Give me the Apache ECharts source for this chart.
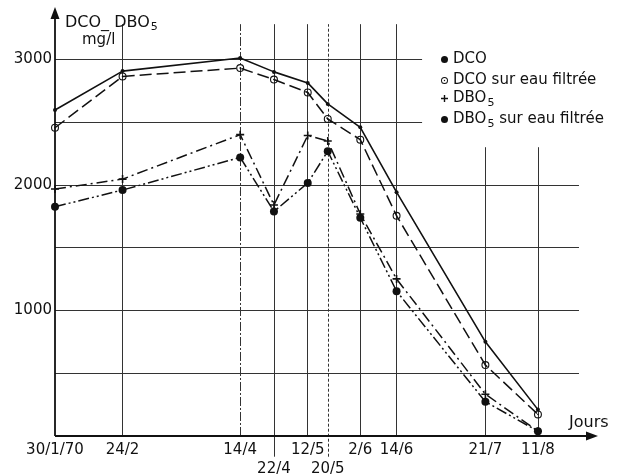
<!DOCTYPE html>
<html>
<head>
<meta charset="utf-8">
<script src="https://cdn.jsdelivr.net/npm/echarts@6/dist/echarts.min.js"></script>
<style>html,body{margin:0;padding:0;background:#fff}#c{width:617px;height:474px}</style>
</head>
<body>
<div id="c"></div>
<script>
// ---- data ----
var dates = ['30/1/70','24/2','14/4','22/4','12/5','20/5','2/6','14/6','21/7','11/8'];
var xPos  = [0, 27, 74, 87.5, 101, 109, 122, 136.5, 172, 193];   // position along the time axis (days from 30/1)
var dco   = [2596, 2906, 3010, 2900, 2812, 2645, 2458, 1942, 750, 210];
var dcoF  = [2455, 2864, 2930, 2839, 2736, 2525, 2360, 1754, 565, 172];
var dbo   = [1967, 2046, 2400, 1840, 2393, 2350, 1768, 1251, 333, 38];
var dboF  = [1826, 1959, 2219, 1788, 2015, 2268, 1738, 1153, 273, 38];
var yTicks = [1000, 2000, 3000];
var lowRow = ['22/4', '20/5'];
var seriesNames = ['DCO', 'DCO sur eau filtrée', 'DBO5', 'DBO5 sur eau filtrée'];

var FONT = 'DejaVu Sans';
var INK = '#111';
function pts(arr){ return arr.map(function(v,i){ return [xPos[i], v]; }); }

// frame: axes, arrows, grid lines
var frame = [];
var gl = {color:'#333', width:1, type:'solid'};
[500,1000,1500,2000].forEach(function(y){
  frame.push([{coord:[0,y], lineStyle:gl},{coord:[209.4,y]}]);
});
[2500,3000].forEach(function(y){
  frame.push([{coord:[0,y], lineStyle:gl},{coord:[146.7,y]}]);
});
xPos.forEach(function(x,i){
  if(i===0) return;
  var bottom = lowRow.indexOf(dates[i])>=0 ? -165 : 0;
  var top = i>=8 ? 2300 : 3280;
  var st = dates[i]==='20/5' ? {color:'#333', width:1, type:[3,2]} :
           dates[i]==='14/4' ? {color:'#333', width:1, type:[9,2,2,2]} : gl;
  frame.push([{coord:[x,bottom], lineStyle:st},{coord:[x,top]}]);
});
// axes with arrows
frame.push([{coord:[0,0], symbol:'none', lineStyle:{color:INK,width:1.8,type:'solid'}},{coord:[214.6,0], symbol:'triangle', symbolSize:[9,12], symbolRotate:-90}]);
frame.push([{coord:[0,0], symbol:'none', lineStyle:{color:INK,width:1.8,type:'solid'}},{coord:[0,3368], symbol:'triangle', symbolSize:[9,12], symbolRotate:0}]);

var sub = {fontSize:11, fontFamily:FONT, color:INK, padding:[9,0,0,1]};
var plusPath = 'path://M4,0H6V4H10V6H6V10H4V6H0V4H4Z';
var ringPath = 'path://M0,5a5,5 0 1,0 10,0a5,5 0 1,0 -10,0Z M1.4,5a3.6,3.6 0 1,1 7.2,0a3.6,3.6 0 1,1 -7.2,0Z M4,5a1,1 0 1,0 2,0a1,1 0 1,0 -2,0Z';
var icons = ['circle', ringPath, plusPath, 'circle'];
var legendTops = [47, 68, 86, 107];

var legends = seriesNames.map(function(n,i){
  return {
    orient:'vertical', left:436, top:legendTops[i], itemWidth:7, itemHeight:7,
    selectedMode:false,
    textStyle:{fontFamily:FONT, fontSize:15, color:INK, rich:{sub:sub}},
    formatter:function(s){ return s.replace('DBO5','DBO{sub|5}'); },
    data:[{name:n, icon:icons[i]}]
  };
});

var chart = echarts.init(document.getElementById('c'), null, {renderer:'canvas'});
chart.setOption({
  animation:false,
  backgroundColor:'#fff',
  grid:{left:55, right:617-593, top:9.1, bottom:12.9, containLabel:false, outerBoundsMode:'none'},
  title:[
    {text:'DCO_ DBO{sub|5}', left:60, top:8, textStyle:{fontFamily:FONT, fontSize:16, fontWeight:'normal', color:INK, rich:{sub:sub}}},
    {text:'mg/l', left:77, top:28, textStyle:{fontFamily:FONT, fontSize:15, fontWeight:'normal', color:INK}},
    {text:'Jours', left:564, top:410, textStyle:{fontFamily:FONT, fontSize:16, fontWeight:'normal', color:INK}}
  ],
  legend:legends,
  xAxis:{
    type:'value', min:0, max:215, offset:-25.1,
    axisLine:{show:false}, axisTick:{show:false}, splitLine:{show:false},
    axisLabel:{
      customValues:xPos, margin:5, fontFamily:FONT, fontSize:15, color:INK, lineHeight:19,
      formatter:function(v){
        var i = xPos.indexOf(v); if(i<0) return '';
        var t = dates[i];
        return lowRow.indexOf(t)>=0 ? '\n'+t : t;
      }
    }
  },
  yAxis:{
    type:'value', min:-200, max:3400,
    axisLine:{show:false}, axisTick:{show:false}, splitLine:{show:false},
    axisLabel:{customValues:yTicks, margin:3, fontFamily:FONT, fontSize:15, color:INK,
      formatter:function(v){ return String(v); }}
  },
  series:[
    {type:'line', name:'frame', data:[], clip:false, silent:true,
     markLine:{silent:true, symbol:'none', label:{show:false}, animation:false, data:frame}},
    {type:'line', name:seriesNames[0], data:pts(dco), symbol:'circle', symbolSize:4,
     lineStyle:{color:INK, width:1.6, type:'solid'}, itemStyle:{color:INK}, z:5},
    {type:'line', name:seriesNames[1], data:pts(dcoF), symbol:ringPath, symbolSize:8,
     lineStyle:{color:INK, width:1.5, type:[12,5]}, itemStyle:{color:INK}, z:5},
    {type:'line', name:seriesNames[2], data:pts(dbo), symbol:plusPath, symbolSize:8,
     lineStyle:{color:INK, width:1.5, type:[11,4,2,4]}, itemStyle:{color:INK}, z:5},
    {type:'line', name:seriesNames[3], data:pts(dboF), symbol:'circle', symbolSize:8,
     lineStyle:{color:INK, width:1.5, type:[11,3,2,3,2,3]}, itemStyle:{color:INK}, z:5}
  ]
});
</script>
</body>
</html>
